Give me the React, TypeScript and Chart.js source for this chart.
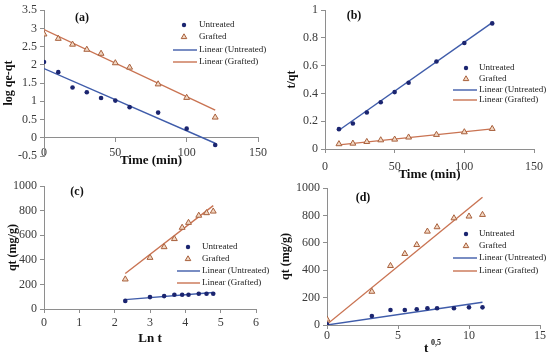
import React, { useEffect, useRef } from 'react';
import { Chart, registerables } from 'chart.js';

Chart.register(...registerables);

// ---------- DATA ----------
const seriesNames = ['Untreated', 'Grafted', 'Linear (Untreated)', 'Linear (Grafted)'];

// (a) pseudo-first-order
const timeA = [0, 10, 20, 30, 40, 50, 60, 80, 100, 120];
const aUntreated = [2.08, 1.8, 1.38, 1.25, 1.09, 1.02, 0.84, 0.69, 0.25, -0.2];
const aGrafted = [2.84, 2.72, 2.56, 2.42, 2.31, 2.05, 1.93, 1.47, 1.1, 0.56];
const aFitX = [0, 120];
const aFitUntreated = [1.9, -0.15];
const aFitGrafted = [2.97, 0.76];

// (b) pseudo-second-order
const timeB = [10, 20, 30, 40, 50, 60, 80, 100, 120];
const bUntreated = [0.143, 0.184, 0.263, 0.337, 0.41, 0.477, 0.63, 0.764, 0.905];
const bGrafted = [0.036, 0.04, 0.052, 0.064, 0.069, 0.084, 0.103, 0.122, 0.146];
const bFitX = [10, 120];
const bFitUntreated = [0.135, 0.91];
const bFitGrafted = [0.03, 0.145];

// (c) Elovich
const lnT = [2.3, 3.0, 3.4, 3.69, 3.91, 4.09, 4.38, 4.6, 4.79];
const cUntreated = [66, 97, 105, 116, 116, 116, 124, 124, 124];
const cGrafted = [242, 418, 505, 571, 663, 703, 761, 782, 795];
const cFitX = [2.3, 4.79];
const cFitUntreated = [76, 134];
const cFitGrafted = [289, 842];

// (d) intraparticle diffusion
const sqrtT = [0, 3.16, 4.47, 5.48, 6.32, 7.07, 7.75, 8.94, 10, 10.95];
const dUntreated = [5, 66, 110, 110, 115, 122, 122, 122, 129, 129];
const dGrafted = [41, 244, 432, 520, 585, 683, 715, 780, 793, 805];
const dFitX = [0, 10.95];
const dFitUntreated = [0, 166];
const dFitGrafted = [5, 932];

// ---------- STYLE ----------
const SERIF = "'Liberation Serif', 'Times New Roman', serif";
const NAVY = '#1b2570';
const BLUE = '#3f5caa';
const BROWN = '#a8603c';
const TRI_FILL = '#f2d8c4';
const ORANGE = '#c97352';
const AXIS = '#8e8e8e';
const TICK_TXT = '#3a3a3a';

const pts = (xs: number[], ys: number[]) => xs.map((x, i) => ({ x, y: ys[i] }));
const fmt = (v: any) => String(Number(Number(v).toFixed(3)));

type PanelSpec = {
  left: number; top: number; w: number; h: number;
  label: string; lx: number; ly: number;
  rows: number[]; lineX0: number; lineX1: number; markX: number; textX: number;
  xs: number[]; u: number[]; g: number[]; fx: number[]; fu: number[]; fg: number[];
  xMin: number; xMax: number; xStep: number;
  yMin: number; yMax: number; yStep: number;
  xTitle: string; yTitle: string;
  yWidth: number; yTitlePad: number;
  xHeight: number; xTickPad: number; xTitlePadBottom: number;
  xAtZero: boolean;
  pad: { top: number; right: number; bottom: number };
};

const panels: PanelSpec[] = [
  {
    left: 0, top: 0, w: 275, h: 182, label: '(a)', lx: 82, ly: 18,
    rows: [25, 37, 50, 62], lineX0: 173, lineX1: 197, markX: 184, textX: 199,
    xs: timeA, u: aUntreated, g: aGrafted, fx: aFitX, fu: aFitUntreated, fg: aFitGrafted,
    xMin: 0, xMax: 150, xStep: 50, yMin: -0.5, yMax: 3.5, yStep: 0.5,
    xTitle: 'Time (min)', yTitle: 'log qe-qt',
    yWidth: 44, yTitlePad: 2, xHeight: 31, xTickPad: 4, xTitlePadBottom: 0, xAtZero: true,
    pad: { top: 9, right: 17, bottom: 26 },
  },
  {
    left: 275, top: 0, w: 275, h: 182, label: '(b)', lx: 79, ly: 16,
    rows: [68, 79, 90, 100], lineX0: 178, lineX1: 202, markX: 191, textX: 204,
    xs: timeB, u: bUntreated, g: bGrafted, fx: bFitX, fu: bFitUntreated, fg: bFitGrafted,
    xMin: 0, xMax: 150, xStep: 50, yMin: 0, yMax: 1, yStep: 0.2,
    xTitle: 'Time (min)', yTitle: 't/qt',
    yWidth: 50, yTitlePad: 10, xHeight: 33, xTickPad: 7, xTitlePadBottom: 0, xAtZero: false,
    pad: { top: 9, right: 12, bottom: 0 },
  },
  {
    left: 0, top: 176, w: 275, h: 180, label: '(c)', lx: 77, ly: 16,
    rows: [71, 83, 95, 107], lineX0: 177, lineX1: 200, markX: 188, textX: 202,
    xs: lnT, u: cUntreated, g: cGrafted, fx: cFitX, fu: cFitUntreated, fg: cFitGrafted,
    xMin: 0, xMax: 6, xStep: 1, yMin: 0, yMax: 1000, yStep: 200,
    xTitle: 'Ln t', yTitle: 'qt (mg/g)',
    yWidth: 44, yTitlePad: 6, xHeight: 47, xTickPad: 3, xTitlePadBottom: 10, xAtZero: false,
    pad: { top: 6, right: 19, bottom: 0 },
  },
  {
    left: 275, top: 176, w: 275, h: 180, label: '(d)', lx: 88, ly: 22,
    rows: [58, 70, 82, 95], lineX0: 178, lineX1: 202, markX: 191, textX: 204,
    xs: sqrtT, u: dUntreated, g: dGrafted, fx: dFitX, fu: dFitUntreated, fg: dFitGrafted,
    xMin: 0, xMax: 15, xStep: 5, yMin: 0, yMax: 1000, yStep: 200,
    xTitle: '', yTitle: 'qt (mg/g)',
    yWidth: 52, yTitlePad: 4, xHeight: 31, xTickPad: 0, xTitlePadBottom: 0, xAtZero: false,
    pad: { top: 12, right: 10, bottom: 0 },
  },
];

function drawMarker(ctx: CanvasRenderingContext2D, kind: number, x: number, y: number) {
  if (kind === 0) {
    ctx.beginPath();
    ctx.arc(x, y, 2.2, 0, Math.PI * 2);
    ctx.fillStyle = NAVY;
    ctx.fill();
  } else {
    const r = 3.2;
    ctx.beginPath();
    ctx.moveTo(x, y - r);
    ctx.lineTo(x + r * 0.87, y + r * 0.5);
    ctx.lineTo(x - r * 0.87, y + r * 0.5);
    ctx.closePath();
    ctx.fillStyle = TRI_FILL;
    ctx.fill();
    ctx.strokeStyle = BROWN;
    ctx.lineWidth = 1;
    ctx.stroke();
  }
}

function makeDeco(p: PanelSpec) {
  return {
    id: 'deco' + p.label,
    afterDraw(chart: any) {
      const ctx: CanvasRenderingContext2D = chart.ctx;
      ctx.save();
      ctx.font = `bold 12px ${SERIF}`;
      ctx.fillStyle = '#111';
      ctx.textAlign = 'center';
      ctx.textBaseline = 'middle';
      ctx.fillText(p.label, p.lx, p.ly);
      ctx.font = `9px ${SERIF}`;
      ctx.textAlign = 'left';
      chart.data.datasets.forEach((ds: any, i: number) => {
        const y = p.rows[i];
        if (i >= 2) {
          ctx.beginPath();
          ctx.moveTo(p.lineX0, y);
          ctx.lineTo(p.lineX1, y);
          ctx.strokeStyle = ds.borderColor;
          ctx.lineWidth = 1.4;
          ctx.stroke();
        } else {
          drawMarker(ctx, i, p.markX, y);
        }
        ctx.fillStyle = '#222';
        ctx.fillText(ds.label, p.textX, y);
      });
      ctx.restore();
    },
  };
}

function buildConfig(p: PanelSpec): any {
  return {
    type: 'scatter',
    data: {
      datasets: [
        {
          label: seriesNames[0], data: pts(p.xs, p.u), pointStyle: 'circle', pointRadius: 2.3,
          backgroundColor: NAVY, borderColor: NAVY, borderWidth: 0,
        },
        {
          label: seriesNames[1], data: pts(p.xs, p.g), pointStyle: 'triangle', pointRadius: 3.4,
          backgroundColor: TRI_FILL, borderColor: BROWN, borderWidth: 1,
        },
        {
          label: seriesNames[2], data: pts(p.fx, p.fu), showLine: true, pointRadius: 0,
          borderColor: BLUE, borderWidth: 1.4, backgroundColor: BLUE,
        },
        {
          label: seriesNames[3], data: pts(p.fx, p.fg), showLine: true, pointRadius: 0,
          borderColor: ORANGE, borderWidth: 1.4, backgroundColor: ORANGE,
        },
      ],
    },
    options: {
      responsive: false,
      animation: false,
      devicePixelRatio: 1,
      layout: { padding: { top: p.pad.top, right: p.pad.right, bottom: p.pad.bottom, left: 0 } },
      plugins: { legend: { display: false }, tooltip: { enabled: false } },
      scales: {
        x: {
          type: 'linear',
          position: p.xAtZero ? { y: 0 } : 'bottom',
          min: p.xMin, max: p.xMax,
          ticks: {
            stepSize: p.xStep, padding: p.xTickPad, color: TICK_TXT,
            font: { family: SERIF, size: 12 }, maxRotation: 0, callback: fmt,
          },
          grid: { drawOnChartArea: false, drawTicks: true, tickLength: 4, color: AXIS },
          border: { display: true, color: AXIS },
          title: {
            display: p.xTitle !== '', text: p.xTitle, color: '#111',
            font: { family: SERIF, size: 13, weight: 'bold' },
            padding: { top: 0, bottom: p.xTitlePadBottom },
          },
          afterFit: (s: any) => { s.height = p.xHeight; },
        },
        y: {
          type: 'linear',
          min: p.yMin, max: p.yMax,
          ticks: {
            stepSize: p.yStep, padding: 3, color: TICK_TXT,
            font: { family: SERIF, size: 12 }, callback: fmt,
          },
          grid: { drawOnChartArea: false, drawTicks: true, tickLength: 4, color: AXIS },
          border: { display: true, color: AXIS },
          title: {
            display: true, text: p.yTitle, color: '#111',
            font: { family: SERIF, size: 12, weight: 'bold' },
            padding: { top: p.yTitlePad, bottom: 0 },
          },
          afterFit: (s: any) => { s.width = p.yWidth; },
        },
      },
    },
    plugins: [makeDeco(p)],
  };
}

function Panel({ p }: { p: PanelSpec }) {
  const ref = useRef<HTMLCanvasElement | null>(null);
  useEffect(() => {
    if (!ref.current) return;
    const chart = new Chart(ref.current, buildConfig(p));
    return () => chart.destroy();
  }, [p]);
  return (
    <canvas
      ref={ref}
      width={p.w}
      height={p.h}
      style={{ position: 'absolute', left: p.left, top: p.top, width: p.w, height: p.h }}
    />
  );
}

export default function App() {
  return (
    <div
      style={{
        position: 'absolute', left: 0, top: 0, width: 550, height: 356,
        background: '#ffffff', overflow: 'hidden',
      }}
    >
      {panels.map((p) => (
        <Panel key={p.label} p={p} />
      ))}
      <span
        style={{
          position: 'absolute', left: 424, top: 341, fontFamily: SERIF, fontWeight: 'bold',
          fontSize: 13, lineHeight: '14px', color: '#111',
        }}
      >
        t
      </span>
      <span
        style={{
          position: 'absolute', left: 431, top: 338, fontFamily: SERIF, fontWeight: 'bold',
          fontSize: 8, lineHeight: '9px', color: '#111',
        }}
      >
        0,5
      </span>
    </div>
  );
}
